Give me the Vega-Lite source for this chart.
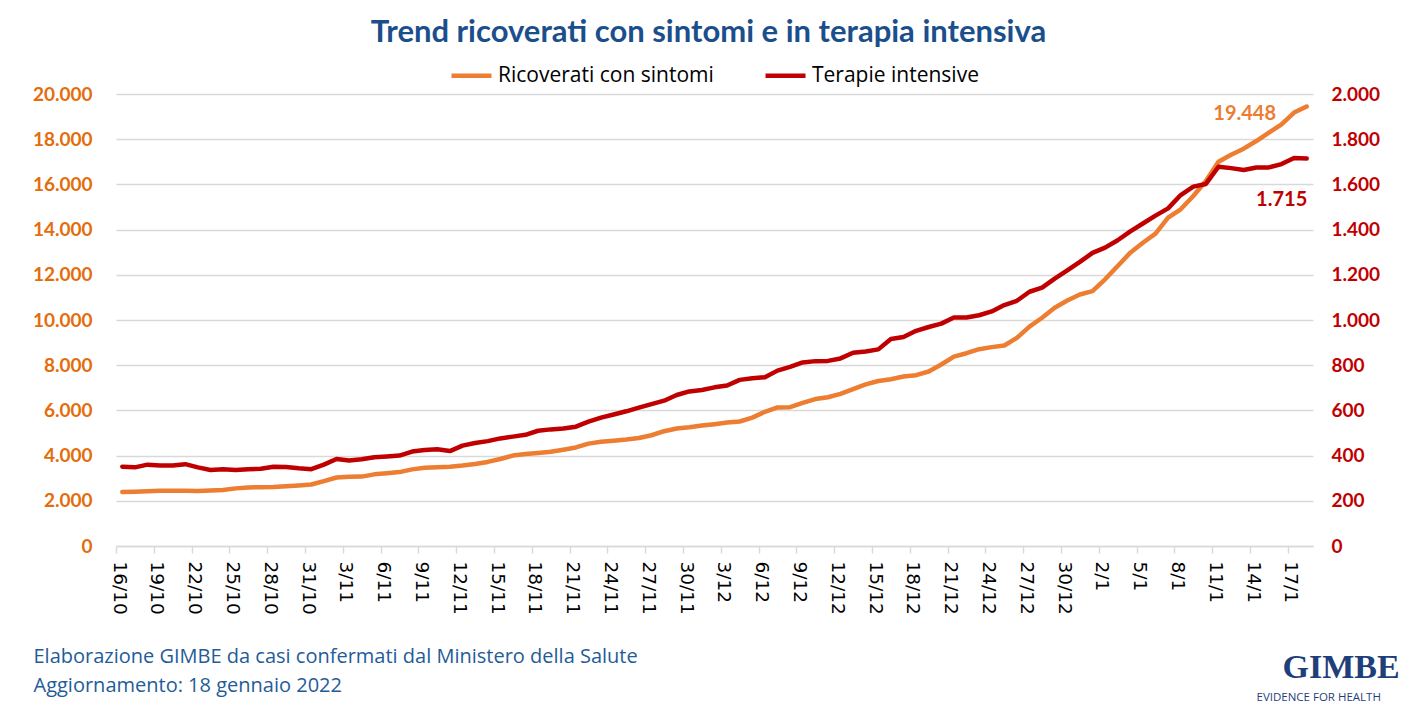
{
  "$schema": "https://vega.github.io/schema/vega-lite/v6.json",
  "width": 1197,
  "height": 452,
  "autosize": "none",
  "padding": {"left": 116, "top": 94, "right": 107, "bottom": 165},
  "background": "white",
  "title": {
    "text": "Trend ricoverati con sintomi e in terapia intensiva",
    "font": "Lato", "fontSize": 31, "fontWeight": "bold", "color": "#1B4F8C",
    "anchor": "middle", "frame": "group", "orient": "top", "offset": 4, "dx": -6
  },
  "data": {"values": [
    {"d":"16/10","r":2390,"t":351},{"d":"17/10","r":2400,"t":348},{"d":"18/10","r":2420,"t":360},{"d":"19/10","r":2440,"t":356},
    {"d":"20/10","r":2450,"t":356},{"d":"21/10","r":2440,"t":362},{"d":"22/10","r":2430,"t":348},{"d":"23/10","r":2460,"t":336},
    {"d":"24/10","r":2480,"t":340},{"d":"25/10","r":2550,"t":336},{"d":"26/10","r":2590,"t":340},{"d":"27/10","r":2600,"t":342},
    {"d":"28/10","r":2610,"t":351},{"d":"29/10","r":2640,"t":350},{"d":"30/10","r":2680,"t":344},{"d":"31/10","r":2720,"t":340},
    {"d":"1/11","r":2870,"t":360},{"d":"2/11","r":3030,"t":385},{"d":"3/11","r":3060,"t":378},{"d":"4/11","r":3070,"t":384},
    {"d":"5/11","r":3170,"t":393},{"d":"6/11","r":3220,"t":396},{"d":"7/11","r":3270,"t":400},{"d":"8/11","r":3390,"t":418},
    {"d":"9/11","r":3460,"t":425},{"d":"10/11","r":3480,"t":428},{"d":"11/11","r":3510,"t":420},{"d":"12/11","r":3560,"t":444},
    {"d":"13/11","r":3630,"t":456},{"d":"14/11","r":3720,"t":464},{"d":"15/11","r":3850,"t":476},{"d":"16/11","r":4000,"t":484},
    {"d":"17/11","r":4075,"t":492},{"d":"18/11","r":4120,"t":510},{"d":"19/11","r":4170,"t":516},{"d":"20/11","r":4260,"t":520},
    {"d":"21/11","r":4360,"t":528},{"d":"22/11","r":4530,"t":550},{"d":"23/11","r":4610,"t":568},{"d":"24/11","r":4660,"t":582},
    {"d":"25/11","r":4710,"t":596},{"d":"26/11","r":4780,"t":612},{"d":"27/11","r":4900,"t":628},{"d":"28/11","r":5080,"t":643},
    {"d":"29/11","r":5200,"t":668},{"d":"30/11","r":5250,"t":684},{"d":"1/12","r":5330,"t":690},{"d":"2/12","r":5390,"t":702},
    {"d":"3/12","r":5460,"t":710},{"d":"4/12","r":5510,"t":735},{"d":"5/12","r":5680,"t":742},{"d":"6/12","r":5940,"t":747},
    {"d":"7/12","r":6130,"t":776},{"d":"8/12","r":6140,"t":793},{"d":"9/12","r":6330,"t":812},{"d":"10/12","r":6500,"t":818},
    {"d":"11/12","r":6580,"t":819},{"d":"12/12","r":6730,"t":830},{"d":"13/12","r":6940,"t":855},{"d":"14/12","r":7150,"t":861},
    {"d":"15/12","r":7300,"t":870},{"d":"16/12","r":7380,"t":916},{"d":"17/12","r":7500,"t":925},{"d":"18/12","r":7560,"t":952},
    {"d":"19/12","r":7720,"t":969},{"d":"20/12","r":8030,"t":984},{"d":"21/12","r":8380,"t":1011},{"d":"22/12","r":8530,"t":1011},
    {"d":"23/12","r":8710,"t":1021},{"d":"24/12","r":8800,"t":1038},{"d":"25/12","r":8870,"t":1066},{"d":"26/12","r":9210,"t":1085},
    {"d":"27/12","r":9710,"t":1125},{"d":"28/12","r":10100,"t":1143},{"d":"29/12","r":10540,"t":1183},{"d":"30/12","r":10860,"t":1220},
    {"d":"31/12","r":11130,"t":1257},{"d":"1/1","r":11280,"t":1297},{"d":"2/1","r":11800,"t":1320},{"d":"3/1","r":12390,"t":1353},
    {"d":"4/1","r":12980,"t":1392},{"d":"5/1","r":13420,"t":1427},{"d":"6/1","r":13820,"t":1462},{"d":"7/1","r":14530,"t":1494},
    {"d":"8/1","r":14900,"t":1553},{"d":"9/1","r":15490,"t":1590},{"d":"10/1","r":16150,"t":1602},{"d":"11/1","r":17000,"t":1678},
    {"d":"12/1","r":17310,"t":1672},{"d":"13/1","r":17580,"t":1664},{"d":"14/1","r":17920,"t":1675},{"d":"15/1","r":18290,"t":1675},
    {"d":"16/1","r":18660,"t":1690},{"d":"17/1","r":19180,"t":1717},{"d":"18/1","r":19448,"t":1715}
  ]},
  "encoding": {
    "x": {
      "field": "d", "type": "ordinal", "sort": null,
      "scale": {"type": "point", "padding": 0.5},
      "axis": {
        "values": ["16/10","19/10","22/10","25/10","28/10","31/10","3/11","6/11","9/11","12/11","15/11","18/11","21/11","24/11","27/11","30/11","3/12","6/12","9/12","12/12","15/12","18/12","21/12","24/12","27/12","30/12","2/1","5/1","8/1","11/1","14/1","17/1"],
        "labelAngle": 90, "labelAlign": "left", "labelBaseline": "middle",
        "labelFont": "DejaVu Sans", "labelFontSize": 18.5, "labelColor": "#000000",
        "labelPadding": 8, "tickOffset": -6.3, "labelOffset": 3,
        "domainColor": "#D9D9D9", "domainWidth": 1.5,
        "tickColor": "#D9D9D9", "tickWidth": 1.5, "tickSize": 7,
        "grid": false,
        "title": ["Elaborazione GIMBE da casi confermati dal Ministero della Salute", "Aggiornamento: 18 gennaio 2022"],
        "titleFont": "Open Sans", "titleFontSize": 20, "titleFontWeight": "normal", "titleColor": "#1F5C99",
        "titleAlign": "left", "titleAnchor": "start", "titleBaseline": "alphabetic",
        "titleX": -83, "titleY": 116, "titleLineHeight": 29
      }
    }
  },
  "layer": [
    {
      "layer": [
        {
          "mark": {"type": "line", "strokeWidth": 4.5, "strokeCap": "round", "strokeJoin": "round"},
          "encoding": {
            "y": {
              "field": "r", "type": "quantitative",
              "scale": {"domain": [0, 20000], "nice": false, "zero": true},
              "axis": {
                "orient": "left",
                "values": [0,2000,4000,6000,8000,10000,12000,14000,16000,18000,20000],
                "format": ",d",
                "labelFont": "Lato", "labelFontSize": 19, "labelFontWeight": "bold", "labelColor": "#E46C0A",
                "labelPadding": 24, "ticks": false, "domain": false,
                "grid": true, "gridColor": "#D9D9D9", "gridWidth": 1.5,
                "title": "EVIDENCE FOR HEALTH",
                "titleFont": "Open Sans", "titleFontSize": 11.5, "titleFontWeight": "normal", "titleColor": "#1F3F7A",
                "titleAngle": 0, "titleAlign": "left", "titleBaseline": "alphabetic",
                "titleX": 1140, "titleY": 606
              }
            },
            "color": {
              "datum": "Ricoverati con sintomi",
              "scale": {"domain": ["Ricoverati con sintomi", "Terapie intensive"], "range": ["#ED7D31", "#C00000"]},
              "legend": {
                "orient": "none", "legendX": 333, "legendY": -41, "direction": "horizontal", "title": null,
                "symbolType": "stroke", "symbolSize": 1600, "symbolStrokeWidth": 4.5,
                "labelFont": "Open Sans", "labelFontSize": 21, "labelColor": "#000000", "labelOffset": 4,
                "labelLimit": 400, "columnPadding": 42
              }
            }
          }
        },
        {
          "transform": [{"filter": "datum.d === '18/1'"}],
          "mark": {"type": "text", "font": "Lato", "fontSize": 20, "fontWeight": "bold", "fill": "#ED7D31", "dx": -62, "dy": 8},
          "encoding": {
            "y": {"field": "r", "type": "quantitative"},
            "text": {"field": "r", "type": "quantitative", "format": ",d"}
          }
        }
      ]
    },
    {
      "layer": [
        {
          "mark": {"type": "line", "strokeWidth": 4.5, "strokeCap": "round", "strokeJoin": "round"},
          "encoding": {
            "y": {
              "field": "t", "type": "quantitative",
              "scale": {"domain": [0, 2000], "nice": false, "zero": true},
              "axis": {
                "orient": "right",
                "values": [0,200,400,600,800,1000,1200,1400,1600,1800,2000],
                "format": ",d",
                "labelFont": "Lato", "labelFontSize": 19, "labelFontWeight": "bold", "labelColor": "#C00000",
                "labelPadding": 18, "ticks": false, "domain": false, "grid": false,
                "title": "GIMBE",
                "titleFont": "Liberation Serif", "titleFontSize": 34, "titleFontWeight": "bold", "titleColor": "#1F3F7A",
                "titleAngle": 0, "titleAlign": "left", "titleBaseline": "alphabetic",
                "titleX": -31, "titleY": 583
              }
            },
            "color": {"datum": "Terapie intensive"}
          }
        },
        {
          "transform": [{"filter": "datum.d === '18/1'"}],
          "mark": {"type": "text", "font": "Lato", "fontSize": 20, "fontWeight": "bold", "fill": "#C00000", "dx": -25, "dy": 42},
          "encoding": {
            "y": {"field": "t", "type": "quantitative"},
            "text": {"field": "t", "type": "quantitative", "format": ",d"}
          }
        }
      ]
    }
  ],
  "resolve": {"scale": {"y": "independent"}, "axis": {"y": "independent"}},
  "config": {
    "view": {"stroke": null},
    "locale": {"number": {"decimal": ",", "thousands": ".", "grouping": [3], "currency": ["€", ""]}}
  }
}
